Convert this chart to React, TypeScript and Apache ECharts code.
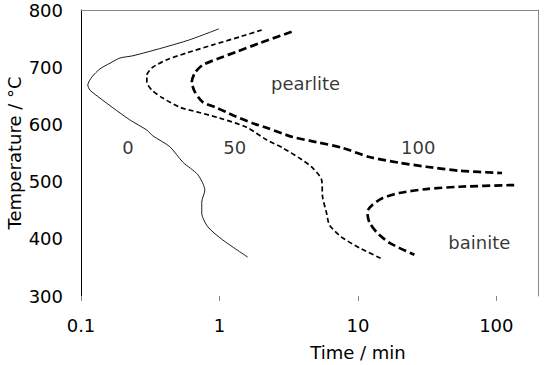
import React, { useEffect, useRef } from "react";
import * as echarts from "echarts";

// [time / min, temperature / °C]
const curve0: [number, number][] = [
  [0.99, 767], [0.61, 748], [0.39, 734], [0.237, 720], [0.191, 716],
  [0.162, 707], [0.137, 697], [0.12, 683], [0.112, 669], [0.116, 660],
  [0.137, 646], [0.17, 629], [0.225, 608], [0.299, 590], [0.33, 580],
  [0.438, 561], [0.544, 534], [0.698, 512], [0.784, 485], [0.745, 464],
  [0.745, 445], [0.824, 421], [1.056, 398], [1.6, 368],
];

const curve50: [number, number][] = [
  [2.02, 765], [1.4, 753], [0.895, 739], [0.581, 725], [0.417, 713],
  [0.33, 700], [0.299, 686], [0.299, 674], [0.325, 660], [0.39, 646],
  [0.517, 630], [0.686, 622], [1.005, 611], [1.574, 595], [2.19, 573],
  [2.86, 559], [3.79, 541], [4.71, 524], [5.47, 503], [5.56, 473],
  [5.94, 445], [6.24, 424], [7.62, 403], [10.3, 384], [14.6, 366],
];

const curve100Upper: [number, number][] = [
  [3.32, 762], [1.95, 742], [1.33, 727], [1.005, 716], [0.758, 704],
  [0.664, 690], [0.631, 674], [0.664, 657], [0.758, 639], [0.957, 629],
  [1.25, 616], [1.74, 602], [2.19, 594], [3.38, 578], [5.03, 569],
  [7.74, 559], [12.1, 543], [19.9, 533], [31.2, 526], [54, 519], [110, 515],
];

const curve100Lower: [number, number][] = [
  [134.6, 494], [54, 491], [31.2, 487], [19.9, 480], [15.0, 471],
  [12.7, 459], [11.7, 447], [12.1, 429], [13.6, 412], [16.9, 393], [25.6, 372],
];

const annotationNames = ["pearlite", "bainite", "0", "50", "100"];
const annotationTimes = [4.19, 75.3, 0.218, 1.29, 27.3];
const annotationTemps = [672, 394, 559, 559, 559];

const yTicks = { min: 300, max: 800, interval: 100 };
const xRange = { min: 0.1, max: 200 };

const FONT = 'Verdana, "DejaVu Sans", sans-serif';

export default function App() {
  const ref = useRef<HTMLDivElement>(null);

  useEffect(() => {
    document.body.style.margin = "0";
    if (!ref.current) return;
    const chart = echarts.init(ref.current, undefined, { renderer: "svg" });

    const lineBase = {
      type: "line" as const,
      showSymbol: false,
      symbol: "none",
      smooth: 0.25,
      silent: true,
      xAxisIndex: 0,
      yAxisIndex: 0,
    };

    chart.setOption({
      animation: false,
      backgroundColor: "#ffffff",
      textStyle: { fontFamily: FONT },
      grid: {
        left: 81,
        right: 6,
        top: 10,
        bottom: 69,
        containLabel: false,
        outerBoundsMode: "none",
      },
      xAxis: [
        {
          type: "log",
          logBase: 10,
          min: xRange.min,
          max: xRange.max,
          axisLine: { show: false },
          axisTick: { show: true, length: 5, lineStyle: { color: "#888888" } },
          axisLabel: {
            fontSize: 18,
            color: "#000000",
            fontFamily: FONT,
            margin: 20,
            showMaxLabel: false,
            formatter: (v: number) => String(Number(v.toPrecision(3))),
          },
          splitLine: { show: false },
        },
        {
          type: "log",
          logBase: 10,
          min: xRange.min,
          max: xRange.max,
          position: "top",
          axisLine: { show: true, onZero: false, lineStyle: { color: "#888888", width: 1 } },
          axisTick: { show: false },
          axisLabel: { show: false },
          splitLine: { show: false },
        },
      ],
      yAxis: [
        {
          type: "value",
          min: yTicks.min,
          max: yTicks.max,
          interval: yTicks.interval,
          name: "Temperature / °C",
          nameLocation: "middle",
          nameGap: 58,
          nameMoveOverlap: false,
          nameTextStyle: { fontSize: 18, color: "#000000", fontFamily: FONT },
          axisLine: { show: true, lineStyle: { color: "#000000", width: 1 } },
          axisTick: { show: false },
          axisLabel: { fontSize: 18, color: "#000000", fontFamily: FONT, margin: 18 },
          splitLine: { show: false },
        },
        {
          type: "value",
          min: yTicks.min,
          max: yTicks.max,
          interval: yTicks.interval,
          position: "right",
          axisLine: { show: true, lineStyle: { color: "#888888", width: 1 } },
          axisTick: { show: false },
          axisLabel: { show: false },
          splitLine: { show: false },
        },
      ],
      graphic: [
        {
          type: "text",
          x: 358,
          y: 352,
          style: {
            text: "Time / min",
            fill: "#000000",
            font: `18px ${FONT}`,
            align: "center",
            verticalAlign: "middle",
          },
        },
      ],
      series: [
        {
          ...lineBase,
          name: "0",
          data: curve0,
          lineStyle: { color: "#000000", width: 0.9, type: "solid" },
        },
        {
          ...lineBase,
          name: "50",
          data: curve50,
          lineStyle: { color: "#000000", width: 1.7, type: [5, 3] },
        },
        {
          ...lineBase,
          name: "100a",
          data: curve100Upper,
          lineStyle: { color: "#000000", width: 2.7, type: [8, 4] },
        },
        {
          ...lineBase,
          name: "100b",
          data: curve100Lower,
          lineStyle: { color: "#000000", width: 2.7, type: [8, 4] },
        },
        {
          type: "scatter",
          silent: true,
          symbolSize: 1,
          itemStyle: { color: "rgba(0,0,0,0)" },
          data: annotationNames.map((n, i) => ({
            name: n,
            value: [annotationTimes[i], annotationTemps[i]],
          })),
          label: {
            show: true,
            position: "inside",
            formatter: "{b}",
            color: "#000000",
            fontSize: 18,
            fontFamily: FONT,
          },
        },
      ],
    });

    return () => {
      chart.dispose();
    };
  }, []);

  return <div ref={ref} style={{ width: 544, height: 365 }} />;
}
